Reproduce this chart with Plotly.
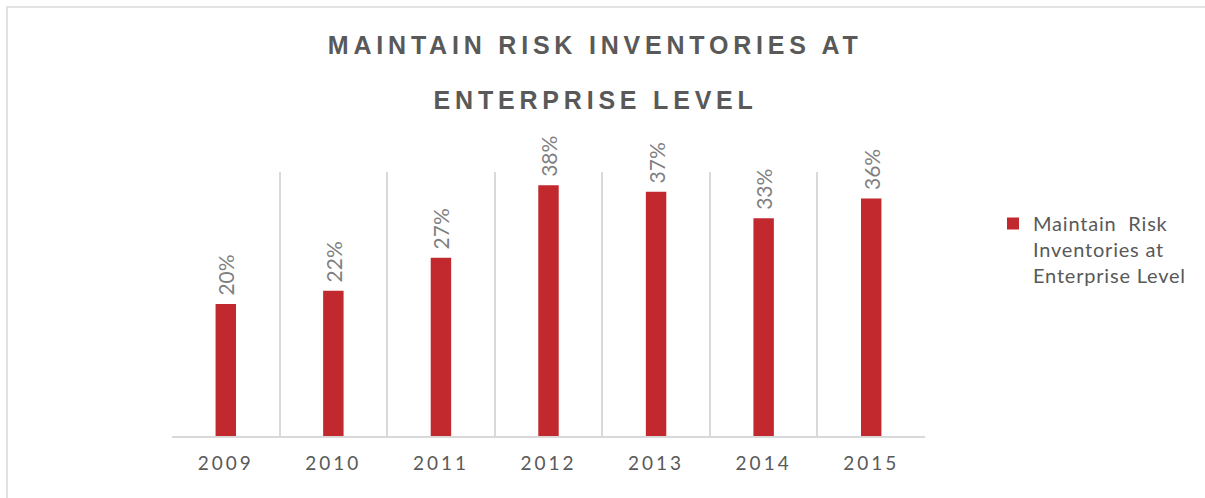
import plotly.graph_objects as go

years = ["2009", "2010", "2011", "2012", "2013", "2014", "2015"]
values = [0.20, 0.22, 0.27, 0.38, 0.37, 0.33, 0.36]
series_name = "Maintain  Risk<br>Inventories at<br>Enterprise Level"
title_line1 = "MAINTAIN RISK INVENTORIES AT"
title_line2 = "ENTERPRISE LEVEL"

FONT = "Lato, 'Open Sans', sans-serif"

fig = go.Figure()
fig.add_trace(go.Bar(
    x=years, y=values, name=series_name,
    marker=dict(color="#c1292e", line=dict(width=0)),
    width=0.19,
    texttemplate="\u00a0%{y:.0%}", textposition="outside", textangle=-90,
    constraintext="none",
    textfont=dict(family=FONT, size=21, color="#7f7f7f"),
    cliponaxis=False,
    showlegend=True,
))

W, H = 1205, 498
L, R, T, B = 172, 280, 172, 62
pw, ph = W - L - R, H - T - B

title_font = dict(family="Liberation Sans, Arial, sans-serif", size=25, color="#595959", weight="bold")

fig.update_layout(
    width=W, height=H,
    margin=dict(l=L, r=R, t=T, b=B, pad=0),
    paper_bgcolor="white", plot_bgcolor="white",
    annotations=[
        dict(text=title_line1, xref="paper", yref="paper", x=(595 - L) / pw, y=(436 - 45) / ph,
             xanchor="center", yanchor="middle", showarrow=False, font=title_font),
        dict(text=title_line2, xref="paper", yref="paper", x=(595 - L) / pw, y=(436 - 100) / ph,
             xanchor="center", yanchor="middle", showarrow=False, font=title_font),
    ],
    xaxis=dict(
        type="category", tickson="boundaries", showgrid=True, gridcolor="#d9d9d9", gridwidth=1.5,
        showline=True, linecolor="#d9d9d9", linewidth=1.5, ticks="",
        tickfont=dict(family=FONT, size=19, color="#595959"),
        ticklabelstandoff=9,
        zeroline=False,
    ),
    yaxis=dict(range=[0, 0.40], visible=False, showgrid=False, zeroline=False),
    legend=dict(
        x=(993 - L) / pw, xanchor="left", y=(436 - 204) / ph, yanchor="top",
        font=dict(family=FONT, size=20, color="#595959"),
        itemwidth=30, bgcolor="rgba(0,0,0,0)", valign="top",
    ),
    shapes=[dict(
        type="rect", xref="paper", yref="paper",
        x0=(7 - L) / pw, x1=(W + 20 - L) / pw,
        y0=-(B + 20) / ph, y1=(H - B - 7) / ph,
        line=dict(color="#d9d9d9", width=1.5), fillcolor="rgba(0,0,0,0)", layer="below",
    )],
    bargap=0.81,
)

post = """
(function(){
  document.querySelectorAll('.annotation-text').forEach(function(t){ t.style.letterSpacing = '4.8px'; });
  document.querySelectorAll('.xtick text').forEach(function(t){ t.style.letterSpacing = '3px'; });
  document.querySelectorAll('.legendtext').forEach(function(t){ t.style.letterSpacing = '0.8px'; });
  document.querySelectorAll('.legend [clip-path], .legend').forEach(function(e){ e.removeAttribute('clip-path'); });
})();
"""
fig.write_html("out.html", post_script=post)
